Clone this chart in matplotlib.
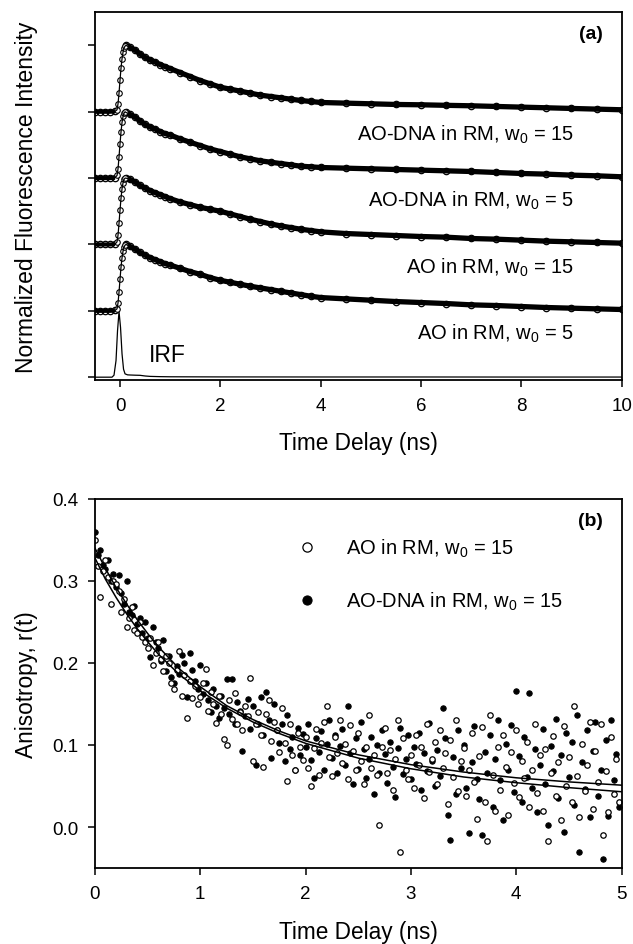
"""Fluorescence decays (a) and anisotropy r(t) (b) for AO / AO-DNA in reverse micelles."""

import matplotlib

matplotlib.use("Agg")
import matplotlib.pyplot as plt  # noqa: E402
import numpy as np  # noqa: E402

plt.rcParams["font.family"] = ["Liberation Sans", "DejaVu Sans"]
plt.rcParams["mathtext.fontset"] = "custom"
plt.rcParams["mathtext.rm"] = "Liberation Sans"
plt.rcParams["mathtext.default"] = "regular"

# ---- panel (a): normalized decays, each stacked on its own baseline ----
t_a = [-0.5, -0.4, -0.3, -0.2, -0.1,
       -0.06, -0.04, -0.02, 0.0, 0.02, 0.04, 0.06, 0.08, 0.1, 0.12,
       0.2, 0.3, 0.4, 0.5, 0.6, 0.7, 0.8, 0.9, 1.0,
       1.2, 1.4, 1.6, 1.8, 2.0, 2.2, 2.4, 2.6, 2.8, 3.0, 3.2, 3.4, 3.6, 3.8, 4.0,
       4.5, 5.0, 5.5, 6.0, 6.5, 7.0, 7.5, 8.0, 8.5, 9.0, 9.5, 10.0]

ao5 = [0, 0, 0, 0, 0.005,
       0.03, 0.12, 0.28, 0.48, 0.66, 0.80, 0.90, 0.96, 0.99, 1.00,
       0.97, 0.93, 0.88, 0.84, 0.80, 0.77, 0.74, 0.71, 0.69,
       0.64, 0.59, 0.55, 0.50, 0.46, 0.43, 0.40, 0.37, 0.345, 0.32, 0.295, 0.27, 0.245, 0.22, 0.20,
       0.18, 0.16, 0.14, 0.125, 0.11, 0.09, 0.08, 0.065, 0.05, 0.04, 0.03, 0.02]
ao15 = [0, 0, 0, 0, 0.005,
        0.04, 0.14, 0.32, 0.52, 0.70, 0.84, 0.93, 0.98, 1.00, 1.00,
        0.98, 0.94, 0.89, 0.85, 0.81, 0.78, 0.75, 0.72, 0.69,
        0.64, 0.60, 0.56, 0.53, 0.50, 0.46, 0.42, 0.38, 0.345, 0.31, 0.28, 0.255, 0.23, 0.21, 0.19,
        0.165, 0.15, 0.135, 0.12, 0.11, 0.09, 0.08, 0.065, 0.05, 0.04, 0.03, 0.02]
dna5 = [0, 0, 0, 0, 0.005,
        0.04, 0.14, 0.32, 0.52, 0.70, 0.84, 0.93, 0.98, 1.00, 0.99,
        0.96, 0.92, 0.86, 0.81, 0.77, 0.74, 0.70, 0.67, 0.65,
        0.59, 0.54, 0.49, 0.44, 0.40, 0.36, 0.32, 0.29, 0.26, 0.24, 0.22, 0.20, 0.18, 0.17, 0.16,
        0.15, 0.14, 0.13, 0.12, 0.11, 0.10, 0.085, 0.07, 0.06, 0.045, 0.035, 0.02]
dna15 = [0, 0, 0, 0, 0.005,
         0.03, 0.12, 0.28, 0.48, 0.66, 0.80, 0.90, 0.96, 0.99, 1.00,
         0.97, 0.93, 0.87, 0.82, 0.78, 0.75, 0.71, 0.68, 0.65,
         0.59, 0.53, 0.47, 0.42, 0.37, 0.34, 0.31, 0.28, 0.25, 0.23, 0.21, 0.19, 0.17, 0.155, 0.14,
         0.13, 0.12, 0.11, 0.105, 0.097, 0.09, 0.08, 0.07, 0.06, 0.05, 0.04, 0.03]
baselines = [1, 2, 3, 4]
labels_a = ["AO in RM, w$_0$ = 5", "AO in RM, w$_0$ = 15",
            "AO-DNA in RM, w$_0$ = 5", "AO-DNA in RM, w$_0$ = 15"]

irf_t = [-0.5, -0.3, -0.16, -0.12, -0.08, -0.05, -0.02, 0.01, 0.04, 0.07, 0.1,
         0.15, 0.2, 0.3, 0.4, 0.5, 0.6, 0.8, 1.0, 1.5, 2.0, 4.0, 6.0, 8.0, 10.0]
irf_v = [0.0, 0.0, 0.0, 0.03, 0.25, 0.70, 0.99, 0.75, 0.35, 0.12, 0.05,
         0.035, 0.033, 0.03, 0.028, 0.018, 0.012, 0.008, 0.006, 0.005, 0.004, 0.003, 0.003, 0.002, 0.002]

# ---- panel (b): anisotropy decays, sampled every 25 ps ----
r_ao15 = [
    0.350, 0.318, 0.280, 0.312, 0.325, 0.305, 0.272, 0.300, 0.296, 0.288,
    0.262, 0.278, 0.244, 0.255, 0.268, 0.240, 0.236, 0.250, 0.232, 0.225,
    0.218, 0.230, 0.198, 0.212, 0.225, 0.205, 0.190, 0.208, 0.200, 0.176,
    0.168, 0.192, 0.215, 0.160, 0.185, 0.133, 0.178, 0.157, 0.172, 0.150,
    0.158, 0.176, 0.193, 0.142, 0.165, 0.150, 0.127, 0.160, 0.138, 0.107,
    0.100, 0.155, 0.132, 0.163, 0.125, 0.140, 0.118, 0.148, 0.135, 0.182,
    0.080, 0.126, 0.140, 0.112, 0.073, 0.138, 0.155, 0.105, 0.128, 0.118,
    0.092, 0.145, 0.102, 0.056, 0.125, 0.088, 0.070, 0.115, 0.098, 0.082,
    0.110, 0.072, 0.050, 0.096, 0.120, 0.064, 0.102, 0.128, 0.147, 0.085,
    0.062, 0.110, 0.090, 0.130, 0.078, 0.101, 0.058, 0.124, 0.093, 0.069,
    0.115, 0.081, 0.053, 0.097, 0.136, 0.072, 0.088, 0.064, 0.002, 0.098,
    0.121, 0.066, 0.094, 0.045, 0.083, 0.130, -0.030, 0.108, 0.070, 0.059,
    0.088, 0.048, 0.112, 0.075, 0.097, 0.035, 0.125, 0.067, 0.083, 0.104,
    0.052, 0.118, 0.072, 0.090, 0.028, 0.106, 0.061, 0.131, 0.044, 0.080,
    0.096, 0.038, 0.070, 0.115, 0.055, 0.010, 0.087, 0.122, 0.030, -0.017,
    0.137, 0.064, 0.020, 0.098, 0.045, 0.112, 0.073, 0.015, 0.092, 0.054,
    0.118, 0.036, 0.081, 0.060, 0.104, 0.025, 0.070, 0.126, 0.042, 0.088,
    0.019, 0.095, -0.017, 0.066, 0.111, 0.038, 0.079, 0.008, 0.123, 0.050,
    0.085, 0.030, 0.148, 0.062, 0.012, 0.101, 0.044, 0.075, 0.128, 0.022,
    0.093, 0.055, 0.126, -0.010, 0.068, 0.018, 0.110, 0.040, 0.083, 0.031,
]
r_dna15 = [
    0.360, 0.332, 0.338, 0.320, 0.315, 0.326, 0.300, 0.308, 0.292, 0.307,
    0.285, 0.272, 0.300, 0.262, 0.258, 0.270, 0.248, 0.255, 0.236, 0.250,
    0.230, 0.207, 0.244, 0.226, 0.218, 0.202, 0.228, 0.190, 0.208, 0.183,
    0.175, 0.196, 0.186, 0.210, 0.200, 0.158, 0.212, 0.192, 0.178, 0.168,
    0.198, 0.162, 0.175, 0.155, 0.140, 0.168, 0.148, 0.133, 0.160, 0.145,
    0.180, 0.138, 0.181, 0.126, 0.152, 0.142, 0.093, 0.135, 0.156, 0.120,
    0.148, 0.075, 0.125, 0.158, 0.112, 0.164, 0.130, 0.084, 0.150, 0.118,
    0.102, 0.125, 0.080, 0.137, 0.095, 0.110, 0.070, 0.121, 0.088, 0.113,
    0.098, 0.125, 0.082, 0.060, 0.108, 0.092, 0.117, 0.070, 0.101, 0.130,
    0.084, 0.112, 0.066, 0.099, 0.120, 0.075, 0.148, 0.090, 0.052, 0.108,
    0.071, 0.128, 0.095, 0.060, 0.083, 0.110, 0.040, 0.100, 0.066, 0.118,
    0.089, 0.054, 0.104, 0.073, 0.036, 0.096, 0.121, 0.065, 0.083, 0.112,
    0.058, 0.098, 0.077, 0.115, 0.045, 0.090, 0.068, 0.127, 0.080, 0.050,
    0.094, 0.062, 0.145, 0.109, 0.015, -0.016, 0.085, 0.040, 0.118, 0.072,
    0.100, 0.048, -0.007, 0.079, 0.123, 0.058, 0.034, -0.010, 0.092, 0.066,
    0.112, 0.025, 0.083, 0.130, 0.057, 0.008, 0.101, 0.069, 0.124, 0.043,
    0.166, 0.087, 0.030, 0.110, 0.061, 0.163, 0.047, 0.095, 0.018, 0.076,
    0.120, 0.052, 0.003, 0.099, 0.068, 0.132, 0.035, 0.088, -0.006, 0.115,
    0.061, 0.104, 0.027, 0.137, -0.030, 0.079, 0.046, 0.118, 0.012, 0.093,
    0.128, 0.038, 0.070, -0.039, 0.106, 0.014, 0.131, 0.057, 0.089, 0.024,
]
dt_b = 0.025  # ns per channel
t_b = np.arange(len(r_ao15)) * dt_b

fit_t = [0.0, 0.1, 0.2, 0.3, 0.4, 0.5, 0.6, 0.8, 1.0, 1.25, 1.5, 1.75, 2.0,
         2.5, 3.0, 3.5, 4.0, 4.5, 5.0]
fit_dna15 = [0.340, 0.315, 0.292, 0.272, 0.253, 0.236, 0.220, 0.193, 0.171, 0.148,
             0.131, 0.117, 0.105, 0.088, 0.076, 0.067, 0.060, 0.055, 0.051]
fit_ao15 = [0.328, 0.302, 0.280, 0.260, 0.242, 0.226, 0.211, 0.186, 0.166, 0.145,
            0.128, 0.114, 0.102, 0.084, 0.071, 0.061, 0.054, 0.048, 0.043]

fig = plt.figure(figsize=(6.33, 9.45), dpi=100)
ax1 = fig.add_axes([0.150, 0.597, 0.832, 0.389])
ax2 = fig.add_axes([0.150, 0.0804, 0.832, 0.3906])

for ax in (ax1, ax2):
    for s in ax.spines.values():
        s.set_linewidth(1.3)
    ax.tick_params(direction="out", length=5, width=1.1, labelsize=13.5, pad=7)

# (a)
t_arr = np.array(t_a)
rise = (t_arr > -0.1) & (t_arr < 0.12)
for base, vals, lab in zip(baselines, [ao5, ao15, dna5, dna15], labels_a):
    y = np.array(vals) + base
    pre = t_arr <= -0.1
    post = t_arr >= 0.12
    ax1.plot(t_arr[pre], y[pre], color="black", lw=3.0, solid_capstyle="butt", zorder=2)
    ax1.plot(t_arr[post], y[post], color="black", lw=3.8, solid_capstyle="round", zorder=2)
    ax1.plot(t_arr[~rise], y[~rise], ls="none", marker="o", ms=4.6, mfc="none",
             mec="black", mew=0.9, zorder=3)
    ax1.plot(t_arr[rise], y[rise], ls="none", marker="o", ms=4.0, mfc="white",
             mec="black", mew=0.8, zorder=3)
    ax1.plot(t_arr, y, color="black", lw=0.9, zorder=4)
    ax1.text(9.05, base - 0.33, lab, ha="right", va="center", fontsize=14.5)

ax1.plot(irf_t, irf_v, color="black", lw=0.9)
ax1.text(0.57, 0.34, "IRF", ha="left", va="center", fontsize=16.5)
ax1.text(0.965, 0.965, "(a)", transform=ax1.transAxes, ha="right", va="top",
         fontsize=14, fontweight="bold")

ax1.set_xlim(-0.5, 10)
ax1.set_ylim(-0.04, 5.5)
ax1.set_xticks([0, 2, 4, 6, 8, 10])
ax1.set_yticks([0, 1, 2, 3, 4, 5])
ax1.set_yticklabels([])
ax1.set_xlabel("Time Delay (ns)", fontsize=16.3)
ax1.set_ylabel("Normalized Fluorescence Intensity", fontsize=16.5)
ax1.xaxis.set_label_coords(0.5, -0.139)
ax1.yaxis.set_label_coords(-0.108, 0.5)

# (b)
ax2.plot(t_b, r_dna15, ls="none", marker="o", ms=3.9, mfc="black", mec="black",
         mew=0.7, label="AO-DNA in RM, w$_0$ = 15", zorder=2)
ax2.plot(t_b, r_ao15, ls="none", marker="o", ms=3.9, mfc="white", mec="black",
         mew=0.9, label="AO in RM, w$_0$ = 15", zorder=2)
ax2.plot(fit_t, fit_dna15, color="black", lw=1.1, zorder=3)
ax2.plot(fit_t, fit_ao15, color="black", lw=1.1, zorder=3)

h, l = ax2.get_legend_handles_labels()
ax2.legend([h[1], h[0]], [l[1], l[0]], loc="upper left", bbox_to_anchor=(0.365, 0.925),
           frameon=False, fontsize=14.5, markerscale=1.7, handlelength=1.0,
           handletextpad=1.4, labelspacing=1.55, borderpad=0)
ax2.text(0.965, 0.965, "(b)", transform=ax2.transAxes, ha="right", va="top",
         fontsize=14, fontweight="bold")

ax2.set_xlim(0, 5)
ax2.set_ylim(-0.05, 0.4)
ax2.set_xticks([0, 1, 2, 3, 4, 5])
ax2.set_yticks([0.0, 0.1, 0.2, 0.3, 0.4])
ax2.set_yticklabels(["0.0", "0.1", "0.2", "0.3", "0.4"])
ax2.set_xlabel("Time Delay (ns)", fontsize=16.3)
ax2.set_ylabel("Anisotropy, r(t)", fontsize=16.3)
ax2.xaxis.set_label_coords(0.5, -0.141)
ax2.yaxis.set_label_coords(-0.108, 0.5)

fig.savefig("out.png", dpi=100)
